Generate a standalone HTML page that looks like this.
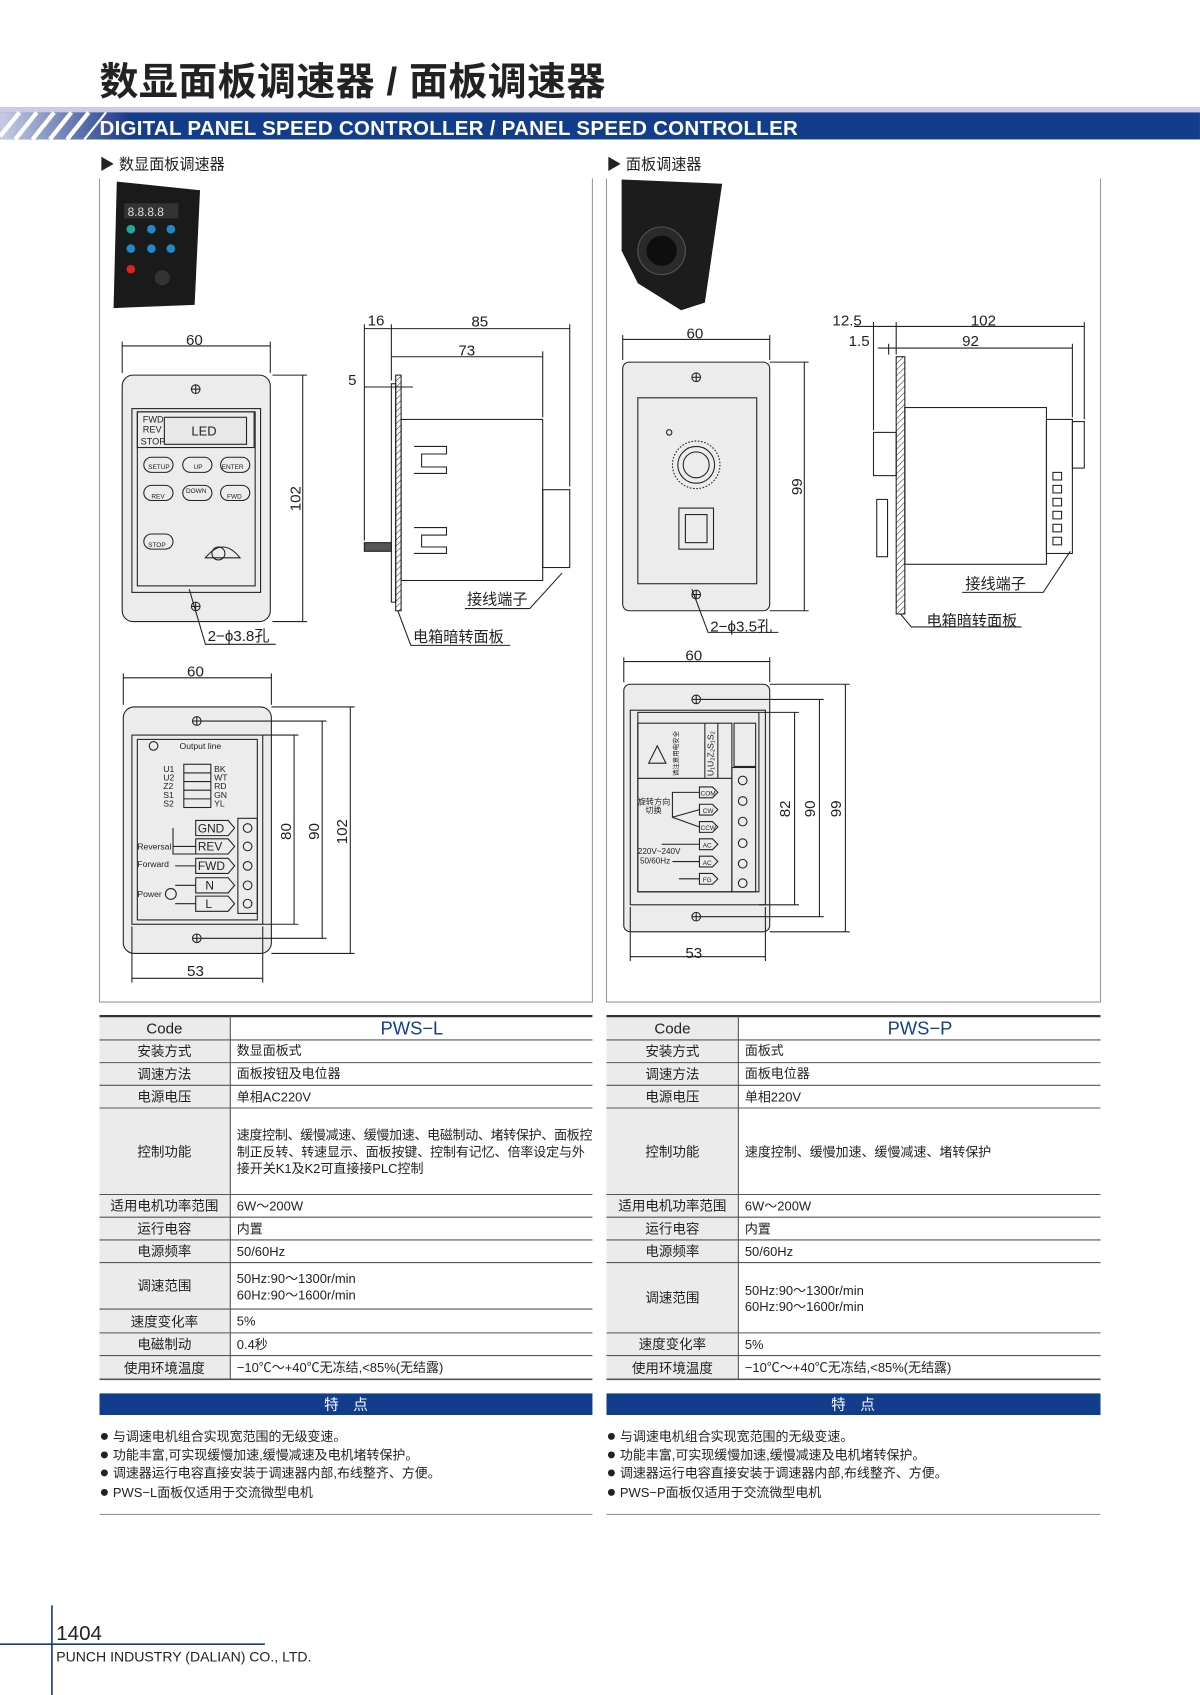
<!DOCTYPE html>
<html><head><meta charset="utf-8"><style>
html,body{margin:0;padding:0;background:#fff}
svg{display:block}
text{font-family:"Liberation Sans","Noto Sans CJK SC",sans-serif;fill:#222}
.b{font-weight:bold}
</style></head><body>
<svg width="1200" height="1695" viewBox="0 0 1110 1568" xmlns="http://www.w3.org/2000/svg">
<defs>
<linearGradient id="g" x1="0" x2="1"><stop offset="0" stop-color="#c8cde6"/><stop offset="1" stop-color="#1b3a8a"/></linearGradient>
<pattern id="hatch" width="4" height="4" patternUnits="userSpaceOnUse" patternTransform="rotate(45)"><line x1="0" y1="0" x2="0" y2="4" stroke="#333" stroke-width="1"/></pattern>
</defs>
<!-- title -->
<text x="92" y="88" font-size="36" class="b" fill="#1a1a1a" textLength="468">数显面板调速器 / 面板调速器</text>
<rect x="0" y="99" width="1110" height="5" fill="#c9cbe3"/>
<rect x="0" y="104" width="1110" height="25" fill="#123d8c"/>
<rect x="0" y="104" width="120" height="25" fill="url(#g)"/>
<g stroke="#fff" stroke-width="4">
<line x1="0" y1="126" x2="18" y2="104"/><line x1="14" y1="129" x2="34" y2="104"/><line x1="30" y1="129" x2="50" y2="104"/><line x1="46" y1="129" x2="66" y2="104"/><line x1="62" y1="129" x2="82" y2="104"/><line x1="78" y1="129" x2="98" y2="104" stroke-width="2"/>
</g>
<text x="92" y="125" font-size="19" class="b" style="fill:#fff" textLength="646">DIGITAL PANEL SPEED CONTROLLER / PANEL SPEED CONTROLLER</text>
<text x="92" y="157" font-size="14">▶ 数显面板调速器</text>
<text x="561" y="157" font-size="14">▶ 面板调速器</text>
<!-- frames -->
<g stroke="#999" fill="none" stroke-width="1">
<polyline points="92,165 92,927 548,927 548,165"/>
<polyline points="561,165 561,927 1018,927 1018,165"/>
</g>
<!-- photos -->
<polygon points="108,168 185,176 180,282 105,285" fill="#1a1a1a"/>
<rect x="115" y="188" width="50" height="14" fill="#333"/>
<text x="118" y="200" font-size="11" style="fill:#ddd">8.8.8.8</text>
<g fill="#2a9">
<circle cx="121" cy="212" r="4"/><circle cx="140" cy="212" r="4" fill="#28c"/><circle cx="158" cy="212" r="4" fill="#28c"/>
<circle cx="121" cy="230" r="4" fill="#28c"/><circle cx="140" cy="230" r="4" fill="#28c"/><circle cx="158" cy="230" r="4" fill="#28c"/>
<circle cx="121" cy="249" r="4" fill="#d22"/></g>
<circle cx="150" cy="257" r="7" fill="#333"/>
<polygon points="575,166 668,170 652,280 630,287 590,262 575,232" fill="#1c1c1c"/>
<circle cx="612" cy="232" r="22" fill="#2a2a2a" stroke="#555"/>
<circle cx="612" cy="232" r="14" fill="#0e0e0e"/>
<!-- LEFT FRONT VIEW -->
<g stroke="#222" fill="none" stroke-width="1">
<rect x="113" y="347" width="137" height="228" rx="10" fill="#ececec"/>
<rect x="122" y="378" width="119" height="170"/>
<rect x="127" y="381" width="109" height="161"/>
<rect x="127" y="381" width="108" height="33"/>
<rect x="152" y="386" width="76" height="25" fill="#e8e8e8"/>
<circle cx="181" cy="360" r="4"/><line x1="177" y1="360" x2="185" y2="360"/><line x1="181" y1="356" x2="181" y2="364"/>
<circle cx="181" cy="561" r="4"/><line x1="177" y1="561" x2="185" y2="561"/><line x1="181" y1="557" x2="181" y2="565"/>
<rect x="133" y="423" width="27" height="14" rx="7"/><rect x="169" y="423" width="27" height="14" rx="7"/><rect x="204" y="423" width="27" height="14" rx="7"/>
<rect x="133" y="449" width="27" height="14" rx="7"/><rect x="169" y="449" width="27" height="14" rx="7"/><rect x="204" y="449" width="27" height="14" rx="7"/>
<rect x="133" y="494" width="27" height="14" rx="7"/>
<path d="M190 516 Q206 496 222 516 Z"/><circle cx="202" cy="512" r="6"/>
<line x1="113" y1="320" x2="250" y2="320"/><line x1="113" y1="316" x2="113" y2="345"/><line x1="250" y1="316" x2="250" y2="345"/>
<line x1="280" y1="347" x2="280" y2="575"/><line x1="252" y1="347" x2="284" y2="347"/><line x1="252" y1="575" x2="284" y2="575"/>
<polyline points="175,545 190,596 255,596"/>
</g>
<text x="172" y="319" font-size="14">60</text>
<text x="278" y="473" font-size="14" transform="rotate(-90 278 473)">102</text>
<text x="192" y="593" font-size="14">2−ϕ3.8孔</text>
<g font-size="8.5">
<text x="132" y="391">FWD</text><text x="132" y="400">REV</text><text x="130" y="411">STOP</text>
<text x="177" y="403" font-size="12">LED</text>
<text x="137" y="434" font-size="6">SETUP</text><text x="179" y="434" font-size="6">UP</text><text x="205" y="434" font-size="6">ENTER</text>
<text x="140" y="461" font-size="6">REV</text><text x="172" y="456" font-size="6">DOWN</text><text x="210" y="461" font-size="6">FWD</text>
<text x="137" y="506" font-size="6">STOP</text>
</g>
<!-- LEFT SIDE VIEW -->
<g stroke="#222" fill="none" stroke-width="1">
<rect x="366" y="347" width="5" height="218" fill="url(#hatch)"/>
<rect x="362" y="355" width="4" height="202"/>
<rect x="371" y="388" width="131" height="149"/>
<rect x="502" y="453" width="25" height="72"/>
<rect x="337" y="502" width="25" height="8" fill="#555"/>
<polyline points="383,413 413,413 413,420 390,420 390,432 413,432 413,438 383,438 Z"/>
<polyline points="383,488 413,488 413,495 390,495 390,506 413,506 413,512 383,512 Z"/>
<line x1="337" y1="300" x2="337" y2="500"/><line x1="362" y1="300" x2="362" y2="352"/><line x1="527" y1="300" x2="527" y2="450"/>
<line x1="337" y1="304" x2="527" y2="304"/><line x1="362" y1="330" x2="502" y2="330"/><line x1="502" y1="325" x2="502" y2="386"/>
<line x1="337" y1="358" x2="382" y2="358"/>
<polyline points="520,530 490,563 430,563"/>
<polyline points="368,565 380,597 472,597"/>
</g>
<text x="340" y="301" font-size="14">16</text><text x="436" y="302" font-size="14">85</text><text x="424" y="329" font-size="14">73</text><text x="322" y="356" font-size="14">5</text>
<text x="432" y="559" font-size="14">接线端子</text><text x="382" y="594" font-size="14">电箱暗转面板</text>
<!-- LEFT BACK VIEW -->
<g stroke="#222" fill="none" stroke-width="1">
<rect x="114" y="654" width="137" height="228" rx="10" fill="#ececec"/>
<rect x="122" y="680" width="121" height="175"/>
<rect x="127" y="684" width="111" height="167"/>
<circle cx="182" cy="667" r="4"/><line x1="178" y1="667" x2="186" y2="667"/><line x1="182" y1="663" x2="182" y2="671"/>
<circle cx="182" cy="868" r="4"/><line x1="178" y1="868" x2="186" y2="868"/><line x1="182" y1="864" x2="182" y2="872"/>
<circle cx="142" cy="690" r="4"/>
<rect x="170" y="707" width="25" height="40"/>
<line x1="170" y1="715" x2="195" y2="715"/><line x1="170" y1="723" x2="195" y2="723"/><line x1="170" y1="731" x2="195" y2="731"/><line x1="170" y1="739" x2="195" y2="739"/>
<rect x="220" y="757" width="18" height="88"/>
<path d="M181 759h30l6 7-6 7h-30zM181 776h30l6 7-6 7h-30zM181 794h30l6 7-6 7h-30zM181 812h30l6 7-6 7h-30zM181 829h30l6 7-6 7h-30z"/>
<circle cx="229" cy="766" r="4"/><circle cx="229" cy="783" r="4"/><circle cx="229" cy="801" r="4"/><circle cx="229" cy="819" r="4"/><circle cx="229" cy="836" r="4"/>
<polyline points="160,766 160,790 181,790"/><polyline points="160,783 181,783"/><polyline points="162,801 181,801"/>
<polyline points="162,819 181,819"/><polyline points="162,836 181,836"/><circle cx="158" cy="827" r="5"/>
<line x1="114" y1="627" x2="251" y2="627"/><line x1="114" y1="623" x2="114" y2="652"/><line x1="251" y1="623" x2="251" y2="652"/>
<line x1="122" y1="905" x2="243" y2="905"/><line x1="122" y1="857" x2="122" y2="909"/><line x1="243" y1="857" x2="243" y2="909"/>
<line x1="272" y1="680" x2="272" y2="855"/><line x1="298" y1="667" x2="298" y2="868"/><line x1="324" y1="654" x2="324" y2="882"/>
<line x1="243" y1="680" x2="276" y2="680"/><line x1="243" y1="855" x2="276" y2="855"/><line x1="186" y1="667" x2="302" y2="667"/><line x1="186" y1="868" x2="302" y2="868"/><line x1="251" y1="654" x2="328" y2="654"/><line x1="251" y1="882" x2="328" y2="882"/>
</g>
<text x="173" y="626" font-size="14">60</text><text x="173" y="903" font-size="14">53</text>
<text x="269" y="777" font-size="14" transform="rotate(-90 269 777)">80</text>
<text x="295" y="777" font-size="14" transform="rotate(-90 295 777)">90</text>
<text x="321" y="781" font-size="14" transform="rotate(-90 321 781)">102</text>
<g font-size="8">
<text x="166" y="693">Output line</text>
<text x="151" y="714">U1</text><text x="151" y="722">U2</text><text x="151" y="730">Z2</text><text x="151" y="738">S1</text><text x="151" y="746">S2</text>
<text x="198" y="714">BK</text><text x="198" y="722">WT</text><text x="198" y="730">RD</text><text x="198" y="738">GN</text><text x="198" y="746">YL</text>
<text x="127" y="786">Reversal</text><text x="127" y="802">Forward</text><text x="127" y="830">Power</text>
<text x="183" y="770" font-size="11">GND</text><text x="183" y="787" font-size="11">REV</text><text x="183" y="805" font-size="11">FWD</text><text x="190" y="823" font-size="11">N</text><text x="190" y="840" font-size="11">L</text>
</g>
<!-- RIGHT FRONT VIEW -->
<g stroke="#222" fill="none" stroke-width="1">
<rect x="576" y="335" width="136" height="230" rx="6" fill="#ececec"/>
<rect x="590" y="368" width="110" height="172"/>
<circle cx="644" cy="349" r="4"/><line x1="640" y1="349" x2="648" y2="349"/><line x1="644" y1="345" x2="644" y2="353"/>
<circle cx="644" cy="550" r="4"/><line x1="640" y1="550" x2="648" y2="550"/><line x1="644" y1="546" x2="644" y2="554"/>
<circle cx="644" cy="430" r="22" stroke-dasharray="1.5 1.5"/><circle cx="644" cy="430" r="17"/><circle cx="644" cy="430" r="12"/>
<circle cx="619" cy="400" r="2.5"/>
<rect x="628" y="470" width="32" height="38"/><rect x="634" y="476" width="20" height="26"/>
<line x1="576" y1="314" x2="712" y2="314"/><line x1="576" y1="310" x2="576" y2="333"/><line x1="712" y1="310" x2="712" y2="333"/>
<line x1="744" y1="335" x2="744" y2="565"/><line x1="712" y1="335" x2="748" y2="335"/><line x1="712" y1="565" x2="748" y2="565"/>
<polyline points="640,545 655,585 720,585"/>
</g>
<text x="635" y="313" font-size="14">60</text>
<text x="742" y="458" font-size="14" transform="rotate(-90 742 458)">99</text>
<text x="657" y="584" font-size="14">2−ϕ3.5孔</text>
<!-- RIGHT SIDE VIEW -->
<g stroke="#222" fill="none" stroke-width="1">
<rect x="829" y="330" width="8" height="238" fill="url(#hatch)"/>
<rect x="837" y="377" width="131" height="145"/>
<rect x="968" y="388" width="24" height="124"/>
<rect x="992" y="390" width="11" height="43"/>
<rect x="808" y="400" width="21" height="40"/>
<rect x="811" y="462" width="10" height="53"/>
<rect x="974" y="437" width="8" height="7"/><rect x="974" y="449" width="8" height="7"/><rect x="974" y="461" width="8" height="7"/><rect x="974" y="473" width="8" height="7"/><rect x="974" y="485" width="8" height="7"/><rect x="974" y="497" width="8" height="7"/>
<line x1="808" y1="298" x2="808" y2="398"/><line x1="829" y1="298" x2="829" y2="328"/><line x1="822" y1="318" x2="822" y2="328"/><line x1="1003" y1="298" x2="1003" y2="388"/><line x1="992" y1="318" x2="992" y2="386"/>
<line x1="790" y1="302" x2="1003" y2="302"/><line x1="812" y1="322" x2="992" y2="322"/>
<polyline points="990,510 965,548 890,548"/>
<polyline points="833,568 843,580 945,580"/>
</g>
<text x="770" y="301" font-size="14">12.5</text><text x="785" y="320" font-size="14">1.5</text><text x="898" y="301" font-size="14">102</text><text x="890" y="320" font-size="14">92</text>
<text x="893" y="545" font-size="14">接线端子</text><text x="857" y="579" font-size="14">电箱暗转面板</text>
<!-- RIGHT BACK VIEW -->
<g stroke="#222" fill="none" stroke-width="1">
<rect x="577" y="633" width="135" height="229" rx="6" fill="#ececec"/>
<rect x="583" y="657" width="125" height="180"/>
<rect x="590" y="659" width="112" height="166"/>
<circle cx="644" cy="647" r="4"/><line x1="640" y1="647" x2="648" y2="647"/><line x1="644" y1="643" x2="644" y2="651"/>
<circle cx="644" cy="848" r="4"/><line x1="640" y1="848" x2="648" y2="848"/><line x1="644" y1="844" x2="644" y2="852"/>
<rect x="590" y="669" width="87" height="156"/>
<line x1="590" y1="720" x2="677" y2="720"/>
<line x1="652" y1="669" x2="652" y2="720"/><line x1="664" y1="669" x2="664" y2="720"/>
<polygon points="600,706 608,690 616,706"/>
<rect x="679" y="669" width="20" height="40"/>
<rect x="677" y="710" width="22" height="115"/>
<circle cx="687" cy="722" r="4"/><circle cx="687" cy="741" r="4"/><circle cx="687" cy="760" r="4"/><circle cx="687" cy="780" r="4"/><circle cx="687" cy="799" r="4"/><circle cx="687" cy="817" r="4"/>
<path d="M647 728h12l5 5-5 5h-12zM647 744h12l5 5-5 5h-12zM647 760h12l5 5-5 5h-12zM647 776h12l5 5-5 5h-12zM647 792h12l5 5-5 5h-12zM647 808h12l5 5-5 5h-12z"/>
<polyline points="647,733 622,733 622,756 647,765"/><line x1="622" y1="756" x2="647" y2="749"/>
<line x1="612" y1="781" x2="647" y2="781"/><line x1="622" y1="797" x2="647" y2="797"/><line x1="628" y1="813" x2="647" y2="813"/>
<line x1="577" y1="612" x2="712" y2="612"/><line x1="577" y1="608" x2="577" y2="631"/><line x1="712" y1="608" x2="712" y2="631"/>
<line x1="583" y1="885" x2="708" y2="885"/><line x1="583" y1="839" x2="583" y2="889"/><line x1="708" y1="839" x2="708" y2="889"/>
<line x1="735" y1="659" x2="735" y2="837"/><line x1="758" y1="647" x2="758" y2="848"/><line x1="782" y1="633" x2="782" y2="862"/>
<line x1="702" y1="659" x2="739" y2="659"/><line x1="702" y1="837" x2="739" y2="837"/><line x1="648" y1="647" x2="762" y2="647"/><line x1="648" y1="848" x2="762" y2="848"/><line x1="712" y1="633" x2="786" y2="633"/><line x1="712" y1="862" x2="786" y2="862"/>
</g>
<text x="634" y="611" font-size="14">60</text><text x="634" y="886" font-size="14">53</text>
<text x="731" y="756" font-size="14" transform="rotate(-90 731 756)">82</text>
<text x="754" y="756" font-size="14" transform="rotate(-90 754 756)">90</text>
<text x="778" y="756" font-size="14" transform="rotate(-90 778 756)">99</text>
<g font-size="7.5">
<text x="590" y="744">旋转方向</text><text x="597" y="752">切换</text>
<text x="590" y="790">220V~240V</text><text x="592" y="799">50/60Hz</text>
<text x="648" y="736" font-size="6">COM</text><text x="650" y="752" font-size="6">CW</text><text x="648" y="768" font-size="6">CCW</text><text x="650" y="784" font-size="6">AC</text><text x="650" y="800" font-size="6">AC</text><text x="650" y="816" font-size="6">FG</text>
<text x="660" y="718" font-size="8" transform="rotate(-90 660 718)">U₁U₂Z₂S₁S₂</text>
<text x="627" y="718" font-size="6" transform="rotate(-90 627 718)">请注意用电安全</text>
</g>
<!-- TABLES -->
<g font-size="12.5">
<rect x="92" y="940" width="121" height="336" fill="#ebebeb"/>
<rect x="561" y="940" width="122" height="336" fill="#ebebeb"/>
<g stroke="#333" stroke-width="2"><line x1="92" y1="940" x2="548" y2="940"/><line x1="561" y1="940" x2="1018" y2="940"/></g>
<g stroke="#555" stroke-width="1">
<line x1="213" y1="940" x2="213" y2="1276"/><line x1="683" y1="940" x2="683" y2="1276"/>
<line x1="92" y1="962" x2="548" y2="962"/><line x1="92" y1="983" x2="548" y2="983"/><line x1="92" y1="1004" x2="548" y2="1004"/><line x1="92" y1="1025" x2="548" y2="1025"/><line x1="92" y1="1105" x2="548" y2="1105"/><line x1="92" y1="1126" x2="548" y2="1126"/><line x1="92" y1="1147" x2="548" y2="1147"/><line x1="92" y1="1168" x2="548" y2="1168"/><line x1="92" y1="1211" x2="548" y2="1211"/><line x1="92" y1="1233" x2="548" y2="1233"/><line x1="92" y1="1254" x2="548" y2="1254"/><line x1="92" y1="1276" x2="548" y2="1276" stroke-width="1.5"/>
<line x1="561" y1="962" x2="1018" y2="962"/><line x1="561" y1="983" x2="1018" y2="983"/><line x1="561" y1="1004" x2="1018" y2="1004"/><line x1="561" y1="1025" x2="1018" y2="1025"/><line x1="561" y1="1105" x2="1018" y2="1105"/><line x1="561" y1="1126" x2="1018" y2="1126"/><line x1="561" y1="1147" x2="1018" y2="1147"/><line x1="561" y1="1168" x2="1018" y2="1168"/><line x1="561" y1="1233" x2="1018" y2="1233"/><line x1="561" y1="1254" x2="1018" y2="1254"/><line x1="561" y1="1276" x2="1018" y2="1276" stroke-width="1.5"/>
</g>
<g text-anchor="middle">
<text x="152" y="956" font-size="14">Code</text><text x="381" y="957" font-size="17" style="fill:#123d8c">PWS−L</text>
<text x="152" y="977">安装方式</text><text x="152" y="998">调速方法</text><text x="152" y="1019">电源电压</text><text x="152" y="1070">控制功能</text><text x="152" y="1120">适用电机功率范围</text><text x="152" y="1141">运行电容</text><text x="152" y="1162">电源频率</text><text x="152" y="1194">调速范围</text><text x="152" y="1227">速度变化率</text><text x="152" y="1248">电磁制动</text><text x="152" y="1270">使用环境温度</text>
<text x="622" y="956" font-size="14">Code</text><text x="851" y="957" font-size="17" style="fill:#123d8c">PWS−P</text>
<text x="622" y="977">安装方式</text><text x="622" y="998">调速方法</text><text x="622" y="1019">电源电压</text><text x="622" y="1070">控制功能</text><text x="622" y="1120">适用电机功率范围</text><text x="622" y="1141">运行电容</text><text x="622" y="1162">电源频率</text><text x="622" y="1205">调速范围</text><text x="622" y="1248">速度变化率</text><text x="622" y="1270">使用环境温度</text>
</g>
<g font-size="12">
<text x="219" y="976">数显面板式</text><text x="219" y="997">面板按钮及电位器</text><text x="219" y="1019">单相AC220V</text>
<text x="219" y="1054" textLength="329">速度控制、缓慢减速、缓慢加速、电磁制动、堵转保护、面板控</text><text x="219" y="1070" textLength="322">制正反转、转速显示、面板按键、控制有记忆、倍率设定与外</text><text x="219" y="1085">接开关K1及K2可直接接PLC控制</text>
<text x="219" y="1120">6W～200W</text><text x="219" y="1141">内置</text><text x="219" y="1162">50/60Hz</text><text x="219" y="1187">50Hz:90～1300r/min</text><text x="219" y="1202">60Hz:90～1600r/min</text><text x="219" y="1226">5%</text><text x="219" y="1248">0.4秒</text><text x="219" y="1269">−10℃～+40℃无冻结,&lt;85%(无结露)</text>
<text x="689" y="976">面板式</text><text x="689" y="997">面板电位器</text><text x="689" y="1019">单相220V</text><text x="689" y="1070">速度控制、缓慢加速、缓慢减速、堵转保护</text>
<text x="689" y="1120">6W～200W</text><text x="689" y="1141">内置</text><text x="689" y="1162">50/60Hz</text><text x="689" y="1198">50Hz:90～1300r/min</text><text x="689" y="1213">60Hz:90～1600r/min</text><text x="689" y="1248">5%</text><text x="689" y="1269">−10℃～+40℃无冻结,&lt;85%(无结露)</text>
</g>
</g>
<!-- features -->
<rect x="92" y="1289" width="456" height="20" fill="#123d8c"/><rect x="561" y="1289" width="457" height="20" fill="#123d8c"/>
<text x="320" y="1304" font-size="13.5" text-anchor="middle" style="fill:#fff">特　点</text>
<text x="789" y="1304" font-size="13.5" text-anchor="middle" style="fill:#fff">特　点</text>
<g font-size="12">
<text x="92" y="1333"><tspan font-size="15">●</tspan> 与调速电机组合实现宽范围的无级变速。</text><text x="92" y="1350"><tspan font-size="15">●</tspan> 功能丰富,可实现缓慢加速,缓慢减速及电机堵转保护。</text><text x="92" y="1367"><tspan font-size="15">●</tspan> 调速器运行电容直接安装于调速器内部,布线整齐、方便。</text><text x="92" y="1385"><tspan font-size="15">●</tspan> PWS−L面板仅适用于交流微型电机</text>
<text x="561" y="1333"><tspan font-size="15">●</tspan> 与调速电机组合实现宽范围的无级变速。</text><text x="561" y="1350"><tspan font-size="15">●</tspan> 功能丰富,可实现缓慢加速,缓慢减速及电机堵转保护。</text><text x="561" y="1367"><tspan font-size="15">●</tspan> 调速器运行电容直接安装于调速器内部,布线整齐、方便。</text><text x="561" y="1385"><tspan font-size="15">●</tspan> PWS−P面板仅适用于交流微型电机</text>
</g>
<g stroke="#999"><line x1="92" y1="1401" x2="548" y2="1401"/><line x1="561" y1="1401" x2="1018" y2="1401"/></g>
<!-- footer -->
<line x1="48" y1="1485" x2="48" y2="1568" stroke="#123d8c" stroke-width="1.5"/>
<line x1="0" y1="1521" x2="245" y2="1521" stroke="#123d8c" stroke-width="1.5"/>
<text x="52" y="1517" font-size="19">1404</text>
<text x="52" y="1537" font-size="13">PUNCH INDUSTRY (DALIAN) CO., LTD.</text>
</svg>
</body></html>
